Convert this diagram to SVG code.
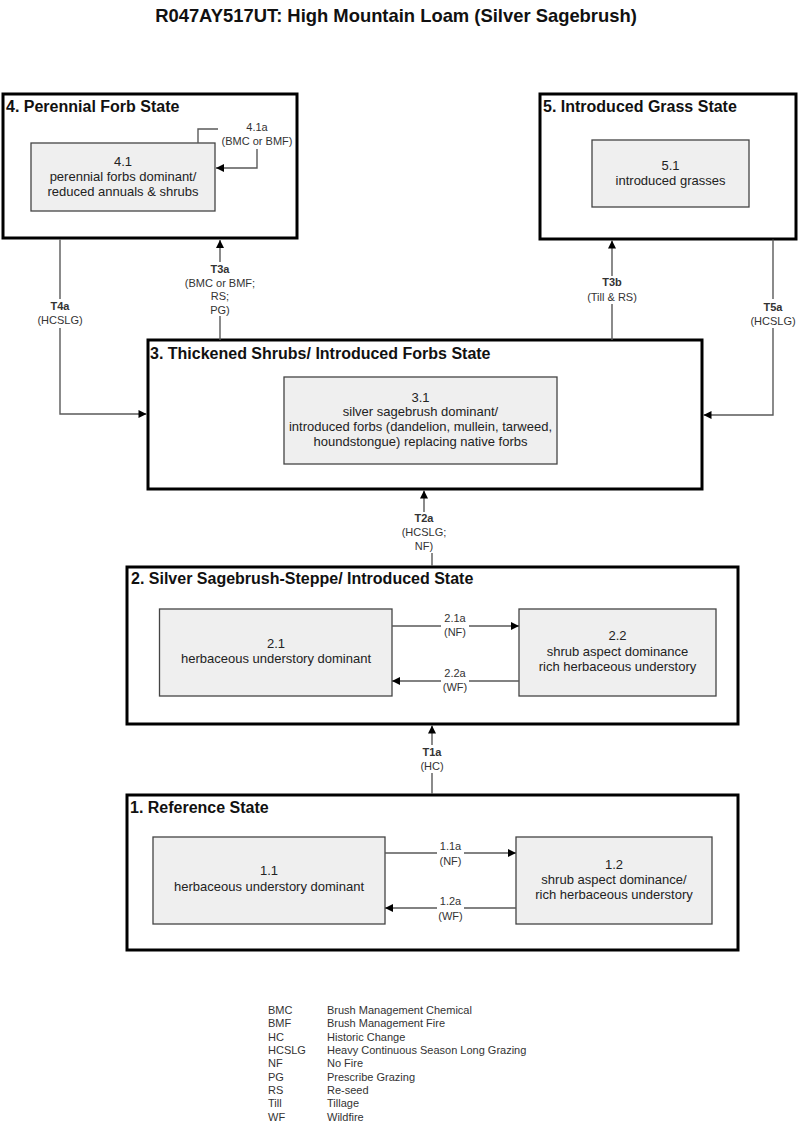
<svg xmlns="http://www.w3.org/2000/svg" width="800" height="1126" viewBox="0 0 800 1126">
<style>
.title{font-family:"Liberation Sans",Arial,sans-serif;font-size:18.4px;font-weight:bold;fill:#111;text-anchor:middle}
.state{fill:#fff;stroke:#000;stroke-width:3}
.stitle{font-family:"Liberation Sans",Arial,sans-serif;font-size:16px;font-weight:bold;fill:#111}
.comm{fill:#efefef;stroke:#444;stroke-width:1.3}
.ctext{font-family:"Liberation Sans",Arial,sans-serif;font-size:13px;fill:#222;text-anchor:middle}
.conn{fill:none;stroke:#5a5a5a;stroke-width:1.4}
.lbl{font-family:"Liberation Sans",Arial,sans-serif;font-size:11px;fill:#333;text-anchor:middle}
.lblb{font-weight:bold}
.leg{font-family:"Liberation Sans",Arial,sans-serif;font-size:11px;fill:#333}
</style>
<defs>
<marker id="arr" viewBox="0 0 10 10" refX="10" refY="5" markerWidth="9" markerHeight="8" markerUnits="userSpaceOnUse" orient="auto">
<path d="M0,0 L10,5 L0,10 z" fill="#000"/>
</marker>
</defs>
<rect width="800" height="1126" fill="#fff"/>
<text class="title" x="396" y="22">R047AY517UT: High Mountain Loam (Silver Sagebrush)</text>

<g id="state4">
<rect class="state" x="3" y="94" width="294" height="144"/>
<text class="stitle" x="6" y="111.5">4. Perennial Forb State</text>
<g id="c4_1">
<rect class="comm" x="31" y="143" width="184" height="68"/>
<text class="ctext" x="123" y="166">4.1</text>
<text class="ctext" x="123" y="181">perennial forbs dominant/</text>
<text class="ctext" x="123" y="196">reduced annuals &amp; shrubs</text>
</g>
</g>

<g id="state5">
<rect class="state" x="540" y="94" width="256" height="145"/>
<text class="stitle" x="543" y="111.5">5. Introduced Grass State</text>
<g id="c5_1">
<rect class="comm" x="592" y="140" width="157" height="67"/>
<text class="ctext" x="670.5" y="169.5">5.1</text>
<text class="ctext" x="670.5" y="184.5">introduced grasses</text>
</g>
</g>

<g id="state3">
<rect class="state" x="148" y="340" width="554" height="149"/>
<text class="stitle" x="150" y="358.5">3. Thickened Shrubs/ Introduced Forbs State</text>
<g id="c3_1">
<rect class="comm" x="284" y="377" width="273" height="87"/>
<text class="ctext" x="420.5" y="401.5">3.1</text>
<text class="ctext" x="420.5" y="416">silver sagebrush dominant/</text>
<text class="ctext" x="420.5" y="431">introduced forbs (dandelion, mullein, tarweed,</text>
<text class="ctext" x="420.5" y="446">houndstongue) replacing native forbs</text>
</g>
</g>

<g id="state2">
<rect class="state" x="127" y="567" width="611" height="157"/>
<text class="stitle" x="131" y="583.5">2. Silver Sagebrush-Steppe/ Introduced State</text>
<g id="c2_1">
<rect class="comm" x="159.5" y="609" width="232.5" height="87"/>
<text class="ctext" x="276" y="647.5">2.1</text>
<text class="ctext" x="276" y="663">herbaceous understory dominant</text>
</g>
<g id="c2_2">
<rect class="comm" x="519" y="609" width="197" height="87"/>
<text class="ctext" x="617.5" y="640">2.2</text>
<text class="ctext" x="617.5" y="656">shrub aspect dominance</text>
<text class="ctext" x="617.5" y="671">rich herbaceous understory</text>
</g>
</g>

<g id="state1">
<rect class="state" x="127" y="795" width="611" height="155"/>
<text class="stitle" x="130" y="812.5">1. Reference State</text>
<g id="c1_1">
<rect class="comm" x="153" y="837" width="232" height="87"/>
<text class="ctext" x="269" y="875">1.1</text>
<text class="ctext" x="269" y="891">herbaceous understory dominant</text>
</g>
<g id="c1_2">
<rect class="comm" x="516" y="837" width="196" height="87"/>
<text class="ctext" x="614" y="868.5">1.2</text>
<text class="ctext" x="614" y="883.5">shrub aspect dominance/</text>
<text class="ctext" x="614" y="899">rich herbaceous understory</text>
</g>
</g>

<g id="connectors">
<path class="conn" d="M198,143 V129 H218 M257,149 V168 H216" marker-end="url(#arr)"/>
<path class="conn" d="M220,340 V316 M220,262 V240" marker-end="url(#arr)"/>
<path class="conn" d="M60,239.5 V299 M60,328 V414 H146.5" marker-end="url(#arr)"/>
<path class="conn" d="M612,340 V304 M612,276 V240.5" marker-end="url(#arr)"/>
<path class="conn" d="M773,239.5 V299 M773,328 V415 H703.5" marker-end="url(#arr)"/>
<path class="conn" d="M432,566 V553 M424,512 V490.5" marker-end="url(#arr)"/>
<path class="conn" d="M432,794 V773 M432,745 V725.5" marker-end="url(#arr)"/>
<path class="conn" d="M392,626 H441 M469,626 H519" marker-end="url(#arr)"/>
<path class="conn" d="M519,681 H469 M441,681 H392" marker-end="url(#arr)"/>
<path class="conn" d="M385,853 H437 M464,853 H516" marker-end="url(#arr)"/>
<path class="conn" d="M516,908 H464 M437,908 H385" marker-end="url(#arr)"/>

<text class="lbl" x="257" y="130.5">4.1a</text>
<text class="lbl" x="257" y="145">(BMC or BMF)</text>

<text class="lbl lblb" x="220" y="273">T3a</text>
<text class="lbl" x="220" y="286.5">(BMC or BMF;</text>
<text class="lbl" x="220" y="300">RS;</text>
<text class="lbl" x="220" y="313.5">PG)</text>

<text class="lbl lblb" x="60" y="310">T4a</text>
<text class="lbl" x="60" y="324">(HCSLG)</text>

<text class="lbl lblb" x="612" y="286">T3b</text>
<text class="lbl" x="612" y="300.5">(Till &amp; RS)</text>

<text class="lbl lblb" x="773" y="310.5">T5a</text>
<text class="lbl" x="773" y="324.5">(HCSLG)</text>

<text class="lbl lblb" x="424" y="522">T2a</text>
<text class="lbl" x="424" y="536">(HCSLG;</text>
<text class="lbl" x="424" y="550">NF)</text>

<text class="lbl lblb" x="432" y="755.5">T1a</text>
<text class="lbl" x="432" y="769.5">(HC)</text>

<text class="lbl" x="455" y="621.5">2.1a</text>
<text class="lbl" x="455" y="636">(NF)</text>
<text class="lbl" x="455" y="676.5">2.2a</text>
<text class="lbl" x="455" y="690.5">(WF)</text>

<text class="lbl" x="450.5" y="850">1.1a</text>
<text class="lbl" x="450.5" y="865">(NF)</text>
<text class="lbl" x="450.5" y="904.5">1.2a</text>
<text class="lbl" x="450.5" y="919.5">(WF)</text>
</g>

<g id="legend">
<text class="leg" x="268" y="1014">BMC</text><text class="leg" x="327" y="1014">Brush Management Chemical</text>
<text class="leg" x="268" y="1027.3">BMF</text><text class="leg" x="327" y="1027.3">Brush Management Fire</text>
<text class="leg" x="268" y="1040.6">HC</text><text class="leg" x="327" y="1040.6">Historic Change</text>
<text class="leg" x="268" y="1054">HCSLG</text><text class="leg" x="327" y="1054">Heavy Continuous Season Long Grazing</text>
<text class="leg" x="268" y="1067.3">NF</text><text class="leg" x="327" y="1067.3">No Fire</text>
<text class="leg" x="268" y="1080.6">PG</text><text class="leg" x="327" y="1080.6">Prescribe Grazing</text>
<text class="leg" x="268" y="1094">RS</text><text class="leg" x="327" y="1094">Re-seed</text>
<text class="leg" x="268" y="1107.3">Till</text><text class="leg" x="327" y="1107.3">Tillage</text>
<text class="leg" x="268" y="1120.6">WF</text><text class="leg" x="327" y="1120.6">Wildfire</text>
</g>
</svg>
